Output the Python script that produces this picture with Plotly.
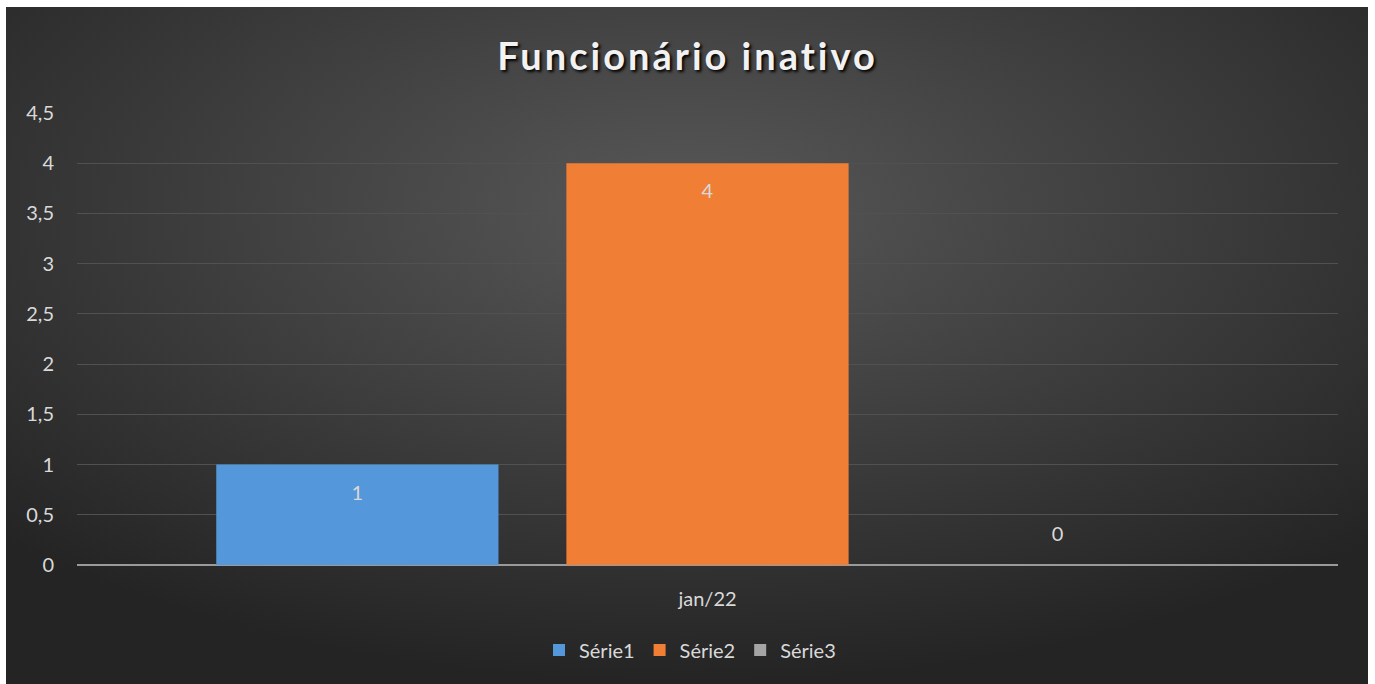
import base64
import plotly.graph_objects as go

# dados do gráfico
categorias = ['jan/22']
series = ['Série1', 'Série2', 'Série3']
valores = [[1], [4], [0]]
cores = ['#5497da', '#f07f35', '#a5a5a5']
y_ticks = [0, 0.5, 1, 1.5, 2, 2.5, 3, 3.5, 4, 4.5]

W, H = 1375, 684
ml, mr, mt, mb = 77, 37, 113, 119
pw, ph = W - ml - mr, H - mt - mb

# fundo escuro com gradiente radial (svg embutido)
svg = ('<svg xmlns="http://www.w3.org/2000/svg" width="1362" height="677" preserveAspectRatio="none">'
       '<defs><radialGradient id="g" cx="50%" cy="30%" r="70%">'
       '<stop offset="0" stop-color="#585858"/><stop offset="1" stop-color="#242424"/>'
       '</radialGradient></defs><rect width="100%" height="100%" fill="url(#g)"/></svg>')
bg_src = 'data:image/svg+xml;base64,' + base64.b64encode(svg.encode()).decode()


def rotulo(v):
    # rótulo "dentro, no fim" como no Excel
    num = f'<span style="font-size:20px">{v}</span>'
    return f'{num}<br> ' if v == 0 else f' <br>{num}'


fig = go.Figure()
for nome, vals, cor in zip(series, valores, cores):
    pos = 'outside' if vals[0] == 0 else 'inside'
    fig.add_trace(go.Bar(
        x=categorias, y=vals, name=nome,
        marker=dict(color=cor, line=dict(width=0)),
        text=[rotulo(v) for v in vals],
        textposition=pos, insidetextanchor='end',
        textfont=dict(family='Lato', size=14, color='#d9d9d9'),
        outsidetextfont=dict(family='Lato', size=14, color='#d9d9d9'),
        cliponaxis=False,
    ))

fig.update_layout(
    width=W, height=H,
    margin=dict(l=ml, r=mr, t=mt, b=mb),
    paper_bgcolor='white', plot_bgcolor='rgba(0,0,0,0)',
    separators=',.',
    barmode='group', bargap=0.167, bargroupgap=0.194,
    title=dict(text='<b>Funcionário inativo</b>', x=0.5, xanchor='center',
               y=1 - 57 / H, yanchor='middle',
               font=dict(family='Lato', size=38, color='#f2f2f2',
                         shadow='2px 2px 3px #000000')),
    font=dict(family='Lato', size=20, color='#d9d9d9'),
    legend=dict(orientation='h', x=(690 - ml) / pw, xanchor='center',
                y=(565 - 650) / ph, yanchor='middle',
                font=dict(size=20, color='#d9d9d9'), bgcolor='rgba(0,0,0,0)',
                itemwidth=30, traceorder='normal'),
    xaxis=dict(showgrid=False, ticks='', showline=False, zeroline=False,
               tickfont=dict(size=20, color='#d9d9d9'), ticklabelstandoff=20),
    yaxis=dict(range=[0, 4.5], tickvals=y_ticks, showgrid=True,
               gridcolor='#515151', gridwidth=1, zeroline=True,
               zerolinecolor='#9a9a9a', zerolinewidth=2, showline=False,
               ticks='', tickfont=dict(size=20, color='#d9d9d9'),
               ticklabelstandoff=22),
    images=[dict(source=bg_src, xref='paper', yref='paper',
                 x=(6 - ml) / pw, y=(565 - 7) / ph,
                 sizex=1362 / pw, sizey=677 / ph,
                 xanchor='left', yanchor='top', sizing='stretch',
                 layer='below')],
)

# sem margem na página; título espaçado como no original
js = ("document.body.style.margin='0';"
      "document.querySelectorAll('.gtitle').forEach(function(t){t.style.letterSpacing='3px';});")
fig.write_html('out.html', post_script=js, config={'displayModeBar': False})
